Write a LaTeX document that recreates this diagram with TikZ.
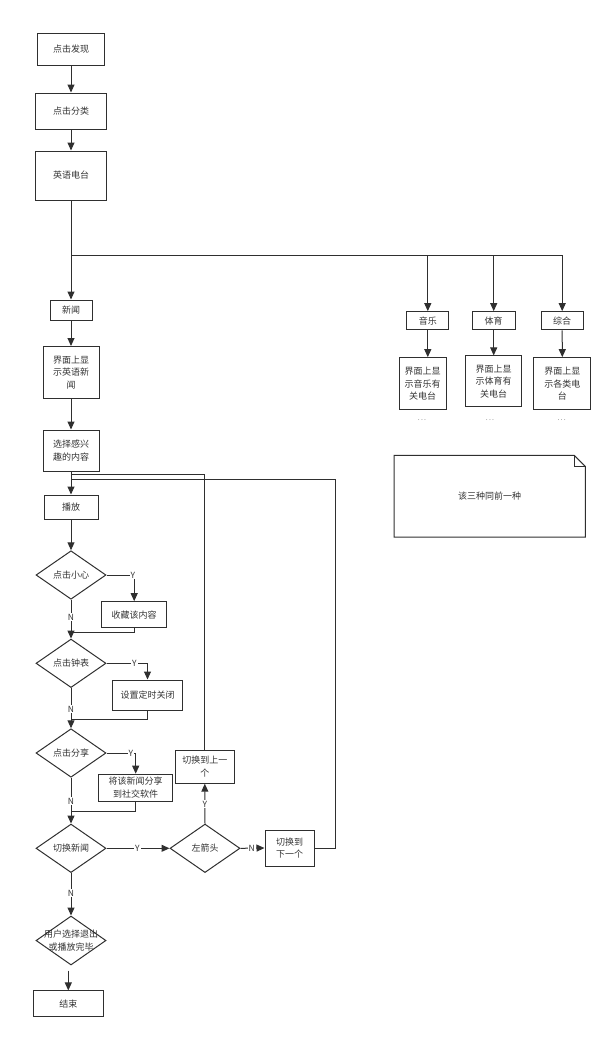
\documentclass[tikz,border=0pt]{standalone}
\usepackage{fontspec}
\setmainfont{Noto Sans CJK SC}
\usetikzlibrary{shapes.geometric,arrows.meta}
\definecolor{ln}{HTML}{2F2F2F}
\definecolor{txt}{HTML}{333333}
\begin{document}
\begin{tikzpicture}[x=1pt,y=-1pt,
  every node/.style={font=\fontsize{9}{12.5}\selectfont, text=txt},
  box/.style={draw=ln, line width=1pt, inner sep=0pt, align=center},
  dia/.style={draw=ln, line width=1pt, diamond, inner sep=0pt, minimum width=70pt, minimum height=48.5pt},
  conn/.style={draw=ln, line width=1pt},
  arr/.style={conn, -{Triangle[length=8pt,width=7pt]}},
  lab/.style={fill=white, inner sep=1pt, font=\fontsize{8.5}{10}\selectfont},
  dots/.style={font=\fontsize{7}{7}\selectfont, text=txt!80}
]
\useasboundingbox (0,0) rectangle (614,1039);

% main column
\node[box, minimum width=67pt, minimum height=32pt] (find) at (71,49) {点击发现};
\node[box, minimum width=71pt, minimum height=36pt] (cat) at (71,111) {点击分类};
\node[box, minimum width=71pt, minimum height=49pt] (eng) at (71,175.5) {英语电台};
\node[box, minimum width=42pt, minimum height=20pt] (news) at (71,310) {新闻};
\node[box, minimum width=56pt, minimum height=52pt] (shownews) at (71,372.5) {界面上显\\示英语新\\闻};
\node[box, minimum width=56pt, minimum height=41pt] (choose) at (71,450.5) {选择感兴\\趣的内容};
\node[box, minimum width=54pt, minimum height=24pt] (play) at (71,507) {播放};
\node[dia, label={center:点击小心}] (d1) at (71,575) {};
\node[box, minimum width=65pt, minimum height=26pt] (fav) at (134.2,614.7) {收藏该内容};
\node[dia, label={center:点击钟表}] (d2) at (71,663.3) {};
\node[box, minimum width=70pt, minimum height=30pt] (timer) at (147.5,695) {设置定时关闭};
\node[dia, label={center:点击分享}] (d3) at (71,753) {};
\node[box, minimum width=74pt, minimum height=27pt] (share) at (135.7,787.7) {将该新闻分享\\到社交软件};
\node[box, minimum width=59pt, minimum height=33pt] (prev) at (204.8,766.7) {切换到上一\\个};
\node[dia, label={center:切换新闻}] (d4) at (71,848.3) {};
\node[dia, label={center:左箭头}] (d5) at (205,848.3) {};
\node[box, minimum width=49pt, minimum height=36pt] (next) at (289.5,848) {切换到\\下一个};
\node[dia, minimum height=49pt, label={[align=center]center:用户选择退出\\或播放完毕}] (d6) at (71,940.5) {};
\node[box, minimum width=70pt, minimum height=25.7pt] (end) at (68.3,1003.8) {结束};

% right branches
\node[box, minimum width=42.3pt, minimum height=18.3pt] (music) at (427.8,320.8) {音乐};
\node[box, minimum width=42.7pt, minimum height=18.3pt] (sport) at (493.7,320.8) {体育};
\node[box, minimum width=42.3pt, minimum height=18.3pt] (mix) at (562.2,320.8) {综合};
\node[box, minimum width=46.7pt, minimum height=52.3pt] (mshow) at (422.7,383.8) {界面上显\\示音乐有\\关电台};
\node[box, minimum width=56pt, minimum height=50.7pt] (sshow) at (493.7,381.3) {界面上显\\示体育有\\关电台};
\node[box, minimum width=56.7pt, minimum height=52.3pt] (xshow) at (562.3,383.8) {界面上显\\示各类电\\台};
\node[dots] (dm) at (422,420.5) {.\,.\,.};
\node[dots] (ds) at (490,420.5) {.\,.\,.};
\node[dots] (dx) at (561.7,420.5) {.\,.\,.};

% note
\node[minimum width=190.7pt, minimum height=81.3pt, inner sep=0pt] (note) at (489.7,496.3) {该三种同前一种};
\draw[ln, line width=1pt] (note.south west) -- (note.north west) -- ([xshift=-11pt]note.north east)
  -- ([yshift=-11pt]note.north east) -- (note.south east) -- cycle;
\draw[ln, line width=1pt] ([xshift=-11pt]note.north east) -- ([xshift=-11pt,yshift=-11pt]note.north east) -- ([yshift=-11pt]note.north east);

% coordinates
\coordinate (br) at (71,255);
\coordinate (j1) at (71,474.3);
\coordinate (j2) at (71,479.3);
\coordinate (r) at (335,479.3);
\coordinate (m1) at (71,632.7);
\coordinate (m2) at (71,719.3);
\coordinate (m3) at (71,811.7);

% connectors, main column
\draw[arr] (find) -- (cat);
\draw[arr] (cat) -- (eng);
\draw[arr] (eng.south) -- (news.north);
\draw[arr] (br) -| (mix.north);
\draw[arr] (br -| music.north) -- (music.north);
\draw[arr] (br -| sport.north) -- (sport.north);
\draw[arr] (music.south) -- (music.south |- mshow.north);
\draw[arr] (sport.south) -- (sshow.north);
\draw[arr] (mix.south) -- (xshow.north);
\draw[arr] (news) -- (shownews);
\draw[arr] (shownews) -- (choose);
\draw[arr] (choose) -- (play);
\draw[arr] (play) -- (d1);

\draw[arr] (d1.east) -| (fav.north);
\draw[arr] (d1.south) -- (d2.north);
\draw[conn] (fav.south) |- (m1);
\draw[arr] (d2.east) -| (timer.north);
\draw[arr] (d2.south) -- (d3.north);
\draw[conn] (timer.south) |- (m2);
\draw[arr] (d3.east) -| (share.north);
\draw[arr] (d3.south) -- (d4.north);
\draw[conn] (share.south) |- (m3);
\draw[arr] (d4.east) -- (d5.west);
\draw[arr] (d5.north) -- (prev.south);
\draw[arr] (d5.east) -- (next.west);
\draw[conn] (prev.north) |- (j1);
\draw[conn] (next.east) -| (r) -- (j2);
\draw[arr] (d4.south) -- (d6.north);
\draw[arr] (d6.south -| end.north) ++(0,5) -- (end.north);

% labels
\node[lab] (y1) at (133,575) {Y};
\node[lab] (n1) at (71,617) {N};
\node[lab] (y2) at (134.3,663.3) {Y};
\node[lab] (n2) at (71,709) {N};
\node[lab] (y3) at (131,753) {Y};
\node[lab] (n3) at (71,801) {N};
\node[lab] (y4) at (137.3,848.3) {Y};
\node[lab] (y5) at (205,804) {Y};
\node[lab] (n5) at (251.7,848.3) {N};
\node[lab] (n4) at (71,893.3) {N};
\end{tikzpicture}
\end{document}
